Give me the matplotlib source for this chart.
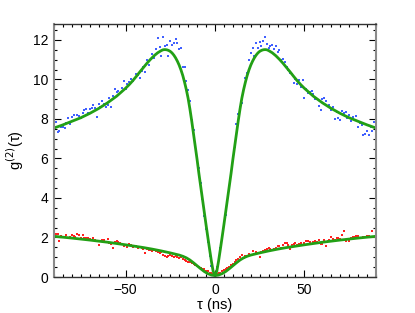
import numpy as np
import matplotlib
matplotlib.use("Agg")
import matplotlib.pyplot as plt
from matplotlib.ticker import MultipleLocator

plt.rcParams['font.family'] = ['Liberation Sans', 'DejaVu Sans']

# --- data ---
tau = np.arange(-90, 91)  # ns, 1 ns bins

g2_blue = [
    6.80, 7.85, 7.35, 7.40, 7.58, 7.60, 7.55, 7.80, 8.05, 7.72,
    8.10, 8.18, 7.95, 8.22, 8.15, 8.05, 8.30, 8.45, 8.48, 8.32,
    8.52, 8.55, 8.72, 8.55, 8.10, 8.75, 8.62, 8.90, 8.78, 8.60,
    8.72, 9.08, 8.62, 9.15, 9.50, 9.38, 9.42, 9.30, 9.55, 9.92,
    9.50, 9.78, 9.85, 10.02, 9.90, 10.00, 10.25, 10.22, 10.05, 10.45,
    10.65, 10.40, 10.98, 10.72, 11.05, 11.30, 11.10, 11.55, 12.12, 11.62,
    11.20, 12.15, 11.68, 11.72, 11.20, 11.95, 11.75, 11.85, 12.05, 11.82,
    11.55, 11.60, 10.65, 10.62, 9.90, 9.45, 8.90, 7.95, 7.45, 6.65,
    6.00, 5.50, 4.75, 3.95, 3.10, 2.45, 1.75, 1.05, 0.55, 0.30,
    0.12,
    0.50, 0.95, 1.45, 1.95, 2.60, 3.15, 3.80, 4.50, 5.25, 5.90,
    6.60, 7.75, 8.25, 8.60, 8.80, 9.50, 10.05, 10.30, 11.00, 11.35,
    11.57, 11.20, 11.86, 11.60, 11.90, 11.70, 11.95, 12.13, 11.80, 11.60,
    11.70, 11.72, 11.55, 11.70, 11.40, 11.50, 11.00, 11.05, 10.90, 10.65,
    10.50, 10.30, 10.25, 9.80, 10.00, 9.75, 9.95, 9.60, 9.95, 9.05,
    9.50, 9.30, 9.35, 9.40, 9.25, 9.00, 9.00, 8.63, 8.46, 9.00,
    9.04, 8.90, 8.65, 8.70, 8.45, 8.60, 8.00, 8.35, 8.05, 7.95,
    8.40, 8.30, 8.33, 8.05, 8.20, 7.90, 8.12, 7.95, 8.16, 7.60,
    7.78, 7.70, 7.19, 7.22, 7.40, 7.20, 7.57, 7.37, 7.85, 7.55,
]

g2_red = [
    2.37, 2.20, 2.18, 1.83, 2.10, 2.05, 2.00, 2.12, 1.98, 2.05,
    2.15, 2.08, 2.02, 2.18, 2.15, 1.98, 2.12, 1.96, 1.95, 1.98,
    1.90, 1.88, 1.95, 1.85, 1.80, 1.60, 1.82, 1.88, 1.85, 1.78,
    1.90, 1.72, 1.65, 1.47, 1.78, 1.80, 1.75, 1.72, 1.68, 1.55,
    1.60, 1.52, 1.65, 1.62, 1.50, 1.55, 1.58, 1.45, 1.50, 1.48,
    1.40, 1.19, 1.42, 1.38, 1.35, 1.32, 1.38, 1.30, 1.28, 1.22,
    1.25, 1.12, 1.08, 1.02, 1.05, 1.10, 1.08, 1.02, 1.05, 1.00,
    0.98, 1.02, 0.92, 0.85, 0.82, 0.76, 0.78, 0.70, 0.65, 0.62,
    0.55, 0.50, 0.45, 0.42, 0.38, 0.32, 0.28, 0.22, 0.18, 0.15,
    0.12,
    0.17, 0.20, 0.22, 0.30, 0.37, 0.40, 0.45, 0.52, 0.59, 0.65,
    0.75, 0.88, 0.90, 1.00, 1.10, 0.98, 1.05, 1.08, 1.15, 1.10,
    1.32, 1.18, 1.25, 1.20, 1.02, 1.28, 1.30, 1.35, 1.40, 1.47,
    1.42, 1.38, 1.40, 1.45, 1.55, 1.56, 1.45, 1.62, 1.70, 1.72,
    1.60, 1.40, 1.62, 1.65, 1.70, 1.60, 1.68, 1.72, 1.62, 1.72,
    1.80, 1.83, 1.78, 1.65, 1.75, 1.80, 1.78, 1.85, 1.68, 1.66,
    1.88, 1.56, 1.82, 1.85, 2.00, 1.92, 1.85, 1.95, 1.98, 1.90,
    2.12, 2.34, 1.82, 1.90, 1.82, 1.98, 2.00, 2.05, 2.10, 2.08,
    1.95, 1.98, 2.05, 2.02, 2.08, 2.10, 2.02, 2.34, 2.05, 2.10,
]

# fitted curves (read at selected delays, symmetric about 0)
fit_tau = [-90, -85, -80, -75, -70, -65, -60, -55, -50, -48, -46, -44, -42, -40,
           -38, -36, -34, -32, -30, -29, -28, -27, -26, -25, -24, -23, -22, -21,
           -20, -19, -18, -17, -16, -15, -14, -13, -12, -11, -10, -9, -8, -7,
           -6, -5, -4, -3, -2, -1, 0,
           1, 2, 3, 4, 5, 6, 7, 8, 9, 10, 11, 12, 13, 14, 15, 16, 17, 18, 19,
           20, 21, 22, 23, 24, 25, 26, 27, 28, 29, 30, 32, 34, 36, 38, 40, 42,
           44, 46, 48, 50, 55, 60, 65, 70, 75, 80, 85, 90]
fit_blue = [7.54, 7.70, 7.88, 8.06, 8.28, 8.53, 8.82, 9.15, 9.55, 9.73, 9.93, 10.15, 10.38, 10.60,
            10.82, 11.02, 11.20, 11.35, 11.46, 11.50, 11.51, 11.50, 11.47, 11.42, 11.34, 11.23, 11.09, 10.92,
            10.72, 10.48, 10.20, 9.86, 9.48, 9.04, 8.50, 7.90, 7.25, 6.60, 5.95, 5.25, 4.60, 3.95,
            3.30, 2.65, 2.02, 1.40, 0.80, 0.28, 0.10,
            0.28, 0.80, 1.40, 2.02, 2.65, 3.30, 3.95, 4.60, 5.25, 5.95, 6.60, 7.25, 7.90, 8.50, 9.04, 9.48, 9.86, 10.20, 10.48,
            10.72, 10.92, 11.09, 11.23, 11.34, 11.42, 11.47, 11.50, 11.51, 11.50, 11.46, 11.35, 11.20, 11.02, 10.82, 10.60, 10.38,
            10.15, 9.93, 9.73, 9.55, 9.15, 8.82, 8.53, 8.28, 8.06, 7.88, 7.70, 7.54]

fit_tau_red = [-90, -80, -70, -60, -50, -40, -35, -30, -25, -20, -18, -16, -14, -12,
               -10, -8, -6, -4, -2, 0, 2, 4, 6, 8, 10, 12, 14, 16, 18, 20, 25, 30,
               35, 40, 50, 60, 70, 80, 90]
fit_red = [2.06, 1.97, 1.87, 1.76, 1.63, 1.49, 1.41, 1.32, 1.22, 1.11, 1.05, 0.97, 0.86, 0.72,
           0.57, 0.42, 0.28, 0.17, 0.10, 0.07, 0.10, 0.17, 0.28, 0.42, 0.57, 0.72, 0.86, 0.97, 1.05, 1.11, 1.22, 1.32,
           1.41, 1.49, 1.63, 1.76, 1.87, 1.97, 2.06]

fig = plt.figure(figsize=(4.15, 3.13), dpi=100)
ax = fig.add_axes([0.130, 0.115, 0.776, 0.808])

ax.plot(tau, g2_blue, 's', ms=1.9, mew=0, color='#4060ff')
ax.plot(tau, g2_red, 's', ms=1.9, mew=0, color='#ff2020')
ax.plot(fit_tau, fit_blue, '-', lw=2.0, color='#22a015', solid_capstyle='round')
ax.plot(fit_tau_red, fit_red, '-', lw=2.0, color='#22a015', solid_capstyle='round')

ax.set_xlim(-90, 90)
ax.set_ylim(0, 12.8)
ax.xaxis.set_major_locator(MultipleLocator(50))
ax.xaxis.set_minor_locator(MultipleLocator(5))
ax.yaxis.set_major_locator(MultipleLocator(2))
ax.yaxis.set_minor_locator(MultipleLocator(0.5))
ax.tick_params(which='both', direction='in', top=True, right=True, labelsize=10, width=0.8)
ax.tick_params(which='major', length=5, pad=4)
ax.tick_params(which='minor', length=2.5)

for s in ['left', 'right']:
    ax.spines[s].set_color('#8a8a8a')
    ax.spines[s].set_linewidth(1.5)
for s in ['top', 'bottom']:
    ax.spines[s].set_color('#333333')
    ax.spines[s].set_linewidth(1.0)

ax.set_xlabel('τ (ns)', fontsize=10.5, labelpad=1)
ax.set_ylabel(r'g$^{(2)}$(τ)', fontsize=10.5, labelpad=5)

fig.savefig('out.png', dpi=100)
